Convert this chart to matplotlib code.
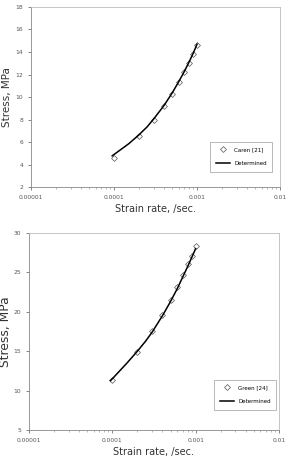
import numpy as np
from matplotlib import pyplot as plt

# top panel: Caren [21]
x1_exp = [1e-4, 2e-4, 3e-4, 4e-4, 5e-4, 6e-4, 7e-4, 8e-4, 9e-4, 1e-3]
y1_exp = [4.6, 6.5, 8.0, 9.2, 10.3, 11.3, 12.2, 13.0, 13.8, 14.6]
x1_fit = [9.5e-5, 1e-4, 1.5e-4, 2e-4, 2.5e-4, 3e-4, 4e-4, 5e-4, 6e-4, 7e-4, 8e-4, 9e-4, 1e-3]
y1_fit = [4.78, 4.9, 5.85, 6.65, 7.35, 8.05, 9.25, 10.35, 11.35, 12.25, 13.1, 13.9, 14.7]

# bottom panel: Green [24]
x2_exp = [1e-4, 2e-4, 3e-4, 4e-4, 5e-4, 6e-4, 7e-4, 8e-4, 9e-4, 1e-3]
y2_exp = [11.3, 14.9, 17.5, 19.6, 21.5, 23.1, 24.6, 26.0, 27.1, 28.3]
x2_fit = [9.5e-5, 1e-4, 1.5e-4, 2e-4, 2.5e-4, 3e-4, 4e-4, 5e-4, 6e-4, 7e-4, 8e-4, 9e-4, 1e-3]
y2_fit = [11.26, 11.5, 13.5, 15.0, 16.25, 17.4, 19.5, 21.3, 22.9, 24.4, 25.7, 26.9, 28.0]

xticks = [1e-5, 1e-4, 1e-3, 1e-2]
xlabels = ['0.00001', '0.0001', '0.001', '0.01']

fig = plt.figure(figsize=(2.87, 4.61), dpi=100)
ax1 = fig.add_axes([0.108, 0.594, 0.868, 0.391])
ax2 = fig.add_axes([0.101, 0.067, 0.871, 0.428])

def style(ax, ylim, yticks, lab_exp, xe, ye, xf, yf, legpos, ysize):
    ax.plot(xe, ye, linestyle='none', marker='D', markersize=3.0,
            markerfacecolor='white', markeredgecolor='#555555',
            markeredgewidth=0.5, label=lab_exp)
    ax.plot(xf, yf, color='black', lw=1.1, label='Determined')
    ax.set_xscale('log')
    ax.set_xlim(1e-5, 1e-2)
    ax.set_ylim(*ylim)
    ax.set_yticks(yticks)
    ax.set_xticks(xticks)
    ax.set_xticklabels(xlabels)
    ax.tick_params(labelsize=4.3, colors='#555555', length=2, width=0.5)
    ax.tick_params(which='minor', length=1.2, width=0.4, color='#888888')
    for s in ax.spines.values():
        s.set_color('#bbbbbb')
        s.set_linewidth(0.6)
    ax.spines['left'].set_color('#888888')
    ax.spines['bottom'].set_color('#888888')
    ax.set_xlabel('Strain rate, /sec.', fontsize=7, color='#333333', labelpad=3)
    ax.set_ylabel('Stress, MPa', fontsize=ysize, color='#333333')
    leg = ax.legend(loc='lower right', bbox_to_anchor=legpos, fontsize=4,
                    frameon=True, fancybox=False, handlelength=2.5,
                    labelspacing=1.6, borderpad=1.0, edgecolor='#999999')
    leg.get_frame().set_linewidth(0.6)

style(ax1, (2, 18), range(2, 19, 2), 'Caren [21]', x1_exp, y1_exp, x1_fit, y1_fit, (0.98, 0.07), 7.5)
style(ax2, (5, 30), range(5, 31, 5), 'Green [24]', x2_exp, y2_exp, x2_fit, y2_fit, (1.0, 0.09), 8.8)
ax1.yaxis.set_label_coords(-0.075, 0.5)
ax2.yaxis.set_label_coords(-0.066, 0.5)

plt.savefig('out.png', dpi=100)
